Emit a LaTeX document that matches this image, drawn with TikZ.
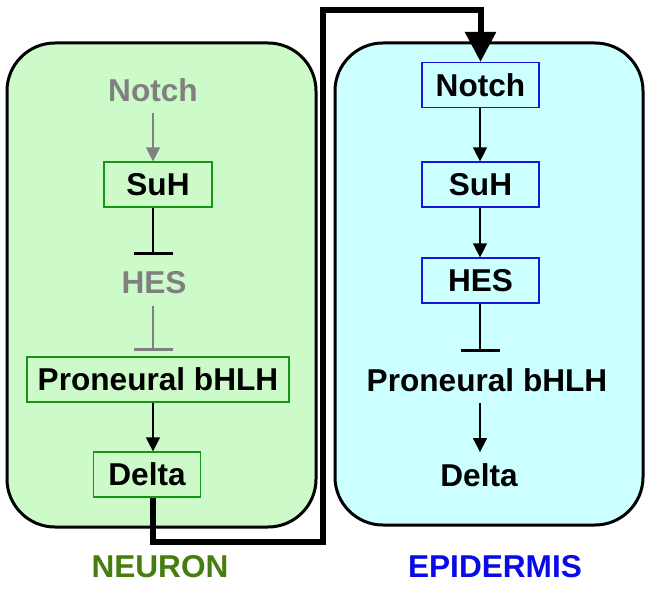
\documentclass[tikz,border=0pt]{standalone}
\usepackage{fontspec}
\setmainfont{Liberation Sans}
\usetikzlibrary{arrows.meta}
\definecolor{cellgreen}{RGB}{204,250,200}
\definecolor{cellcyan}{RGB}{204,255,255}
\definecolor{boxgreen}{RGB}{20,150,20}
\definecolor{boxblue}{RGB}{20,20,220}
\definecolor{labelgreen}{RGB}{70,125,15}
\definecolor{labelblue}{RGB}{10,10,230}
\tikzset{
	gene/.style={font=\fontsize{15.8}{18}\selectfont\bfseries, minimum height=22.5pt, inner xsep=4pt},
	gbox/.style={gene, draw=boxgreen, line width=0.6pt},
	bbox/.style={gene, draw=boxblue, line width=0.6pt},
	cell/.style={draw=black, line width=1.5pt, rounded corners=24pt},
	act/.style={line width=0.65pt, -{Triangle[width=7pt,length=7pt]}},
	inh/.style={line width=0.65pt, -{Bar[width=19.5pt,line width=1.3pt]}, shorten >=2.7pt},
	link/.style={line width=3pt, -{Triangle[width=15pt,length=15pt]}}
}
\begin{document}
\begin{tikzpicture}[x=0.5pt,y=-0.5pt]
\useasboundingbox (0,0) rectangle (652,588);

% cells
\filldraw [cell, fill=cellgreen] (7,43) rectangle (316,527);
\filldraw [cell, fill=cellcyan] (335,43) rectangle (643,525);

% neuron
\coordinate (axL) at (153,0);
\node [gene, text=gray] (notchL) at (153,90) {Notch};
\node [gbox, minimum width=54pt] (suhL) at (158,184.5) {SuH};
\node [gene, text=gray] (hesL) at (154,283) {HES};
\node [gbox, minimum width=131pt] (proL) at (158,379.5) {Proneural bHLH};
\node [gbox, minimum width=53.5pt] (deltaL) at (147,474.5) {Delta};
\draw [act, draw=gray, fill=gray] (notchL.south -| axL) -- (suhL.north -| axL);
\draw [inh] (suhL.south -| axL) -- (hesL.north -| axL);
\draw [inh, draw=gray] (hesL.south -| axL) -- (proL.north -| axL);
\draw [act] (proL.south -| axL) -- (deltaL.north -| axL);

% epidermis
\coordinate (axR) at (480,0);
\node [bbox, minimum width=58.5pt] (notchR) at (480.5,85) {Notch};
\node [bbox, minimum width=58.5pt] (suhR) at (480.5,184.5) {SuH};
\node [bbox, minimum width=58.5pt] (hesR) at (480.5,280.5) {HES};
\node [gene] (proR) at (487,380) {Proneural bHLH};
\node [gene] (deltaR) at (479,475) {Delta};
\foreach \a/\b in {notchR/suhR, suhR/hesR}
	\draw [act] (\a.south -| axR) -- (\b.north -| axR);
\draw [inh] (hesR.south -| axR) -- (proR.north -| axR);
\draw [act] (proR.south -| axR) -- (deltaR.north -| axR);

% Delta -> Notch signal
\coordinate (turnA) at (323,542);
\coordinate (turnB) at (323,10);
\draw [link] (deltaL.south -| axL) |- (turnA) -- (turnB) -| (notchR.north);

% labels
\node [gene, text=labelgreen] (neuron) at (160,567) {NEURON};
\node [gene, text=labelblue] (epidermis) at (495,567) {EPIDERMIS};
\end{tikzpicture}
\end{document}
